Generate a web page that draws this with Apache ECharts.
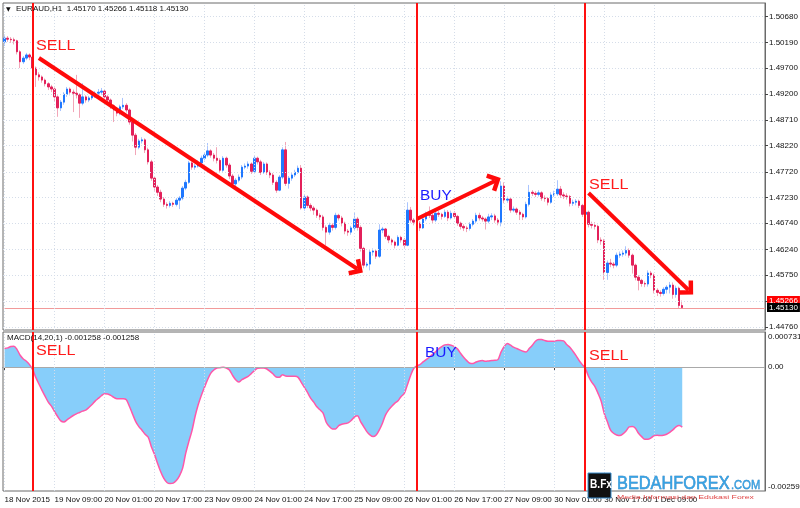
<!DOCTYPE html>
<html>
<head>
<meta charset="utf-8">
<script src="https://cdn.jsdelivr.net/npm/echarts@6/dist/echarts.min.js"></script>
<style>
html, body { margin: 0; padding: 0; background: #fff; }
#chart { width: 800px; height: 508px; }
</style>
</head>
<body>
<div id="chart"></div>
<script>
// EURAUD H1, 18 Nov 2015 17:00 onwards, one entry per hourly bar
const timeLabels = ["18 Nov 2015", "19 Nov 09:00", "20 Nov 01:00", "20 Nov 17:00", "23 Nov 09:00",
  "24 Nov 01:00", "24 Nov 17:00", "25 Nov 09:00", "26 Nov 01:00", "26 Nov 17:00",
  "27 Nov 09:00", "30 Nov 01:00", "30 Nov 17:00", "1 Dec 09:00"];
const barsPerLabel = 16;
const priceTicks = [1.5068, 1.5019, 1.4970, 1.4920, 1.4871, 1.4822, 1.4772, 1.4723,
  1.4674, 1.4624, 1.4575, 1.4526, 1.4476];
const priceRange = [1.44703, 1.50941];
const macdTicks = [0.000731, 0, -0.002593];

const firstOpen = 1.5020;
const closes = [
  1.5027, 1.5025, 1.5024, 1.5022, 1.5001, 1.4982, 1.4989, 1.4995, 1.4991, 1.4970,
  1.4957, 1.4953, 1.4947, 1.4940, 1.4934, 1.4930, 1.4915, 1.4894, 1.4905, 1.4920,
  1.4930, 1.4924, 1.4922, 1.4919, 1.4903, 1.4915, 1.4909, 1.4913, 1.4917, 1.4922,
  1.4924, 1.4926, 1.4915, 1.4909, 1.4898, 1.4890, 1.4884, 1.4896, 1.4899, 1.4890,
  1.4867, 1.4842, 1.4819, 1.4831, 1.4833, 1.4814, 1.4791, 1.4760, 1.4743, 1.4733,
  1.4720, 1.4710, 1.4708, 1.4712, 1.4710, 1.4718, 1.4722, 1.4741, 1.4752, 1.4789,
  1.4781, 1.4783, 1.4789, 1.4798, 1.4804, 1.4812, 1.4804, 1.4798, 1.4794, 1.4775,
  1.4798, 1.4785, 1.4764, 1.4749, 1.4756, 1.4762, 1.4781, 1.4783, 1.4787, 1.4773,
  1.4798, 1.4791, 1.4771, 1.4787, 1.4771, 1.4766, 1.4752, 1.4737, 1.4762, 1.4814,
  1.4750, 1.4760, 1.4766, 1.4771, 1.4779, 1.4703, 1.4724, 1.4708, 1.4703, 1.4699,
  1.4689, 1.4686, 1.4666, 1.4657, 1.4670, 1.4666, 1.4689, 1.4684, 1.4674, 1.4659,
  1.4657, 1.4665, 1.4682, 1.4666, 1.4626, 1.4594, 1.4596, 1.4619, 1.4621, 1.4611,
  1.4661, 1.4663, 1.4649, 1.4642, 1.4638, 1.4632, 1.4647, 1.4642, 1.4632, 1.4699,
  1.4680, 1.4676, 1.4674, 1.4665, 1.4682, 1.4691, 1.4689, 1.4680, 1.4693, 1.4691,
  1.4687, 1.4695, 1.4684, 1.4693, 1.4687, 1.4674, 1.4668, 1.4665, 1.4664, 1.4672,
  1.4678, 1.4689, 1.4684, 1.4682, 1.4678, 1.4686, 1.4688, 1.4680, 1.4676, 1.4745,
  1.4718, 1.4720, 1.4699, 1.4701, 1.4695, 1.4691, 1.4686, 1.4710, 1.4733, 1.4731,
  1.4729, 1.4732, 1.4722, 1.4721, 1.4714, 1.4728, 1.4730, 1.4739, 1.4728, 1.4726,
  1.4725, 1.4712, 1.4714, 1.4716, 1.4708, 1.4691, 1.4695, 1.4672, 1.4670, 1.4668,
  1.4642, 1.4640, 1.4580, 1.4598, 1.4596, 1.4594, 1.4613, 1.4615, 1.4617, 1.4622,
  1.4613, 1.4594, 1.4571, 1.4565, 1.4559, 1.4558, 1.4579, 1.4575, 1.4546, 1.4542,
  1.4540, 1.4548, 1.4552, 1.4556, 1.4538, 1.4550, 1.4517, 1.4513
];
const highs = [
  1.5034, 1.5031, 1.5029, 1.5028, 1.5024, 1.5004, 1.4993, 1.4999, 1.4998, 1.4994,
  1.4973, 1.4962, 1.4956, 1.4950, 1.4943, 1.4938, 1.4933, 1.4918, 1.4909, 1.4924,
  1.4934, 1.4933, 1.4929, 1.4957, 1.4922, 1.4941, 1.4918, 1.4917, 1.4921, 1.4926,
  1.4930, 1.4932, 1.4929, 1.4919, 1.4912, 1.4901, 1.4893, 1.4900, 1.4913, 1.4903,
  1.4893, 1.4870, 1.4846, 1.4835, 1.4838, 1.4836, 1.4818, 1.4795, 1.4764, 1.4747,
  1.4738, 1.4724, 1.4714, 1.4716, 1.4715, 1.4722, 1.4726, 1.4745, 1.4757, 1.4793,
  1.4792, 1.4787, 1.4794, 1.4803, 1.4809, 1.4827, 1.4815, 1.4808, 1.4819, 1.4798,
  1.4802, 1.4801, 1.4789, 1.4768, 1.4760, 1.4767, 1.4785, 1.4788, 1.4792, 1.4790,
  1.4802, 1.4801, 1.4795, 1.4791, 1.4790, 1.4775, 1.4770, 1.4756, 1.4766, 1.4819,
  1.4829, 1.4764, 1.4770, 1.4776, 1.4784, 1.4785, 1.4728, 1.4727, 1.4712, 1.4707,
  1.4702, 1.4693, 1.4690, 1.4670, 1.4675, 1.4674, 1.4694, 1.4692, 1.4688, 1.4677,
  1.4663, 1.4669, 1.4694, 1.4686, 1.4670, 1.4629, 1.4600, 1.4624, 1.4626, 1.4624,
  1.4672, 1.4667, 1.4665, 1.4652, 1.4645, 1.4641, 1.4651, 1.4650, 1.4646, 1.4714,
  1.4705, 1.4684, 1.4680, 1.4678, 1.4686, 1.4696, 1.4706, 1.4693, 1.4697, 1.4697,
  1.4694, 1.4700, 1.4699, 1.4698, 1.4697, 1.4690, 1.4677, 1.4672, 1.4669, 1.4676,
  1.4682, 1.4694, 1.4694, 1.4688, 1.4685, 1.4692, 1.4693, 1.4692, 1.4684, 1.4754,
  1.4752, 1.4725, 1.4724, 1.4706, 1.4704, 1.4699, 1.4694, 1.4715, 1.4747, 1.4737,
  1.4735, 1.4737, 1.4735, 1.4727, 1.4724, 1.4733, 1.4736, 1.4756, 1.4745, 1.4733,
  1.4731, 1.4728, 1.4719, 1.4720, 1.4719, 1.4711, 1.4700, 1.4698, 1.4677, 1.4676,
  1.4671, 1.4647, 1.4644, 1.4603, 1.4606, 1.4600, 1.4618, 1.4620, 1.4622, 1.4630,
  1.4626, 1.4616, 1.4597, 1.4575, 1.4568, 1.4563, 1.4584, 1.4583, 1.4578, 1.4550,
  1.4546, 1.4552, 1.4556, 1.4562, 1.4561, 1.4555, 1.4553, 1.45266
];
const lows = [
  1.5012, 1.5020, 1.5018, 1.5015, 1.4996, 1.4970, 1.4978, 1.4985, 1.4985, 1.4962,
  1.4934, 1.4946, 1.4942, 1.4935, 1.4928, 1.4924, 1.4906, 1.4877, 1.4888, 1.4900,
  1.4915, 1.4918, 1.4886, 1.4912, 1.4875, 1.4899, 1.4904, 1.4905, 1.4909, 1.4913,
  1.4917, 1.4919, 1.4910, 1.4903, 1.4892, 1.4867, 1.4878, 1.4880, 1.4892, 1.4885,
  1.4862, 1.4830, 1.4804, 1.4815, 1.4826, 1.4808, 1.4786, 1.4755, 1.4736, 1.4726,
  1.4714, 1.4705, 1.4702, 1.4704, 1.4705, 1.4706, 1.4701, 1.4718, 1.4737, 1.4749,
  1.4776, 1.4776, 1.4780, 1.4785, 1.4794, 1.4800, 1.4799, 1.4792, 1.4788, 1.4770,
  1.4772, 1.4780, 1.4758, 1.4744, 1.4745, 1.4752, 1.4758, 1.4777, 1.4778, 1.4768,
  1.4770, 1.4786, 1.4766, 1.4768, 1.4766, 1.4760, 1.4747, 1.4732, 1.4735, 1.4758,
  1.4745, 1.4740, 1.4755, 1.4762, 1.4768, 1.4700, 1.4698, 1.4703, 1.4697, 1.4690,
  1.4684, 1.4680, 1.4660, 1.4632, 1.4652, 1.4660, 1.4662, 1.4679, 1.4668, 1.4653,
  1.4650, 1.4652, 1.4660, 1.4660, 1.4620, 1.4588, 1.4590, 1.4584, 1.4612, 1.4606,
  1.4608, 1.4655, 1.4644, 1.4636, 1.4632, 1.4626, 1.4630, 1.4637, 1.4627, 1.4630,
  1.4675, 1.4670, 1.4667, 1.4659, 1.4663, 1.4678, 1.4684, 1.4674, 1.4676, 1.4686,
  1.4681, 1.4684, 1.4678, 1.4681, 1.4682, 1.4669, 1.4662, 1.4659, 1.4657, 1.4660,
  1.4668, 1.4674, 1.4679, 1.4677, 1.4662, 1.4674, 1.4680, 1.4675, 1.4670, 1.4668,
  1.4712, 1.4713, 1.4694, 1.4695, 1.4690, 1.4680, 1.4680, 1.4683, 1.4706, 1.4726,
  1.4724, 1.4725, 1.4717, 1.4715, 1.4708, 1.4711, 1.4724, 1.4726, 1.4722, 1.4720,
  1.4719, 1.4706, 1.4707, 1.4708, 1.4703, 1.4686, 1.4685, 1.4666, 1.4664, 1.4662,
  1.4636, 1.4633, 1.4566, 1.4566, 1.4590, 1.4588, 1.4590, 1.4608, 1.4610, 1.4612,
  1.4608, 1.4578, 1.4565, 1.4546, 1.4553, 1.4552, 1.4553, 1.4569, 1.4540, 1.4535,
  1.4534, 1.4536, 1.4540, 1.4540, 1.4530, 1.4532, 1.4512, 1.45118
];
// MACD(14,20,1) main line
const macd = [
  0.000385, 0.000399, 0.000427, 0.000434, 0.000364, 0.000245, 0.000168, 0.000119, 0.000049, -0.000056,
  -0.000217, -0.000357, -0.000490, -0.000616, -0.000735, -0.000819, -0.000931, -0.001036, -0.001127, -0.001148,
  -0.001106, -0.001057, -0.001015, -0.000980, -0.000952, -0.000924, -0.000903, -0.000847, -0.000784, -0.000714,
  -0.000658, -0.000602, -0.000560, -0.000567, -0.000595, -0.000637, -0.000665, -0.000665, -0.000665, -0.000686,
  -0.000826, -0.000987, -0.001141, -0.001246, -0.001323, -0.001407, -0.001470, -0.001666, -0.001827, -0.002016,
  -0.002191, -0.002331, -0.002415, -0.002436, -0.002429, -0.002373, -0.002275, -0.002121, -0.001806, -0.001561,
  -0.001337, -0.001036, -0.000791, -0.000595, -0.000427, -0.000266, -0.000133, -0.000063, -0.000021, -0.000014,
  -0.000007, -0.000021, -0.000063, -0.000175, -0.000266, -0.000315, -0.000266, -0.000231, -0.000196, -0.000140,
  -0.000077, -0.000028, -0.000021, -0.000021, -0.000042, -0.000091, -0.000147, -0.000210, -0.000217, -0.000161,
  -0.000189, -0.000196, -0.000196, -0.000196, -0.000217, -0.000322, -0.000427, -0.000532, -0.000651, -0.000735,
  -0.000833, -0.000896, -0.000966, -0.001155, -0.001246, -0.001295, -0.001295, -0.001225, -0.001197, -0.001183,
  -0.001169, -0.001120, -0.001050, -0.001022, -0.001141, -0.001246, -0.001351, -0.001421, -0.001456, -0.001421,
  -0.001316, -0.001176, -0.001001, -0.000896, -0.000819, -0.000756, -0.000707, -0.000616, -0.000553, -0.000371,
  -0.000182, -0.000035, 0.000021, 0.000049, 0.000105, 0.000154, 0.000203, 0.000259, 0.000315, 0.000378,
  0.000427, 0.000462, 0.000469, 0.000455, 0.000427, 0.000378, 0.000287, 0.000203, 0.000133, 0.000077,
  0.000070, 0.000105, 0.000126, 0.000133, 0.000119, 0.000126, 0.000133, 0.000140, 0.000154, 0.000315,
  0.000427, 0.000490, 0.000455, 0.000413, 0.000385, 0.000357, 0.000329, 0.000315, 0.000385, 0.000455,
  0.000539, 0.000574, 0.000574, 0.000553, 0.000539, 0.000539, 0.000539, 0.000553, 0.000553, 0.000546,
  0.000469, 0.000413, 0.000329, 0.000238, 0.000133, 0.000049, -0.000035, -0.000196, -0.000315, -0.000406,
  -0.000546, -0.000707, -0.000966, -0.001141, -0.001316, -0.001386, -0.001421, -0.001435, -0.001400, -0.001337,
  -0.001253, -0.001246, -0.001281, -0.001386, -0.001456, -0.001512, -0.001512, -0.001484, -0.001435, -0.001428,
  -0.001435, -0.001428, -0.001407, -0.001365, -0.001316, -0.001253, -0.001225, -0.001258
];
// hand drawn signals: bar index of each vertical line, arrows as [bar, price] pairs
const signalBars = [9, 132, 186];
const arrows = [
  [[11, 1.49892], [113, 1.45867]],
  [[132, 1.46821], [157, 1.47546]],
  [[187, 1.47317], [219, 1.45466]]
];
const totalSlots = 244;

const FONT = "Liberation Sans";
const cats = Array.from({ length: totalSlots }, (_, i) => String(i));
const ohlc = closes.map((c, i) => [i === 0 ? firstOpen : closes[i - 1], c, lows[i], highs[i]]);
const bodies = ohlc.map(d => [d[0], d[1], Math.min(d[0], d[1]), Math.max(d[0], d[1])]);
const last = ohlc[ohlc.length - 1];
const isLabelBar = i => i % barsPerLabel === 0 && i / barsPerLabel < timeLabels.length;

const chevron = "path://M5,0 L10,5 L8.4,6.6 L5,3.2 L1.6,6.6 L0,5 Z";
const dotted = { color: "#d5dde9", type: [1, 2], width: 1 };
const vSeg = (bar, range) => [{ coord: [String(bar), range[0]] }, { coord: [String(bar), range[1]] }];
const macdRange = [macdTicks[2], macdTicks[0]];
const labelBars = timeLabels.map((_, k) => k * barsPerLabel);

// full-height vertical line through a bar, drawn by a custom series
function vLineItem(color, width) {
  return (params, api) => {
    const x = Math.round(api.coord([api.value(0), api.value(1)])[0]);
    const cs = params.coordSys;
    return { type: "line", shape: { x1: x, y1: cs.y, x2: x, y2: cs.y + cs.height },
      style: { stroke: color, lineWidth: width } };
  };
}
// full-width horizontal line at a price
function hLineItem(color) {
  return (params, api) => {
    const y = Math.round(api.coord([api.value(0), api.value(1)])[1]) + 0.5;
    const cs = params.coordSys;
    return { type: "line", shape: { x1: cs.x, y1: y, x2: cs.x + cs.width, y2: y },
      style: { stroke: color, lineWidth: 1 } };
  };
}

// an overlay price axis that only shows one boxed label
function priceBox(value, bg) {
  return {
    gridIndex: 0, type: "value", position: "right", min: priceRange[0], max: priceRange[1], scale: true,
    axisLine: { show: false }, axisTick: { show: false }, splitLine: { show: false },
    axisLabel: { customValues: [value], formatter: v => v.toFixed(5), fontSize: 8, color: "#fff",
      backgroundColor: bg, padding: [1, 2, 0, 2], margin: 2, fontFamily: FONT }
  };
}

const chart = echarts.init(document.getElementById("chart"));

const option = {
  animation: false,
  backgroundColor: "#fff",
  textStyle: { fontFamily: FONT },
  grid: [
    { left: 3, right: 35, top: 3, height: 327, outerBoundsMode: "none", containLabel: false,
      show: true, borderColor: "#6a6a6a", borderWidth: 1, backgroundColor: "#fff" },
    { left: 3, right: 35, top: 332, height: 159, outerBoundsMode: "none", containLabel: false,
      show: true, borderColor: "#6a6a6a", borderWidth: 1, backgroundColor: "#fff" }
  ],
  xAxis: [
    { gridIndex: 0, type: "category", data: cats, axisLine: { show: false }, axisTick: { show: false },
      axisLabel: { show: false }, splitLine: { show: false } },
    { gridIndex: 1, type: "category", data: cats,
      axisLine: { show: true, lineStyle: { color: "#6a6a6a" } },
      axisTick: { show: true, alignWithLabel: true, interval: i => isLabelBar(i), length: 4, lineStyle: { color: "#444" } },
      axisLabel: { interval: i => isLabelBar(i), formatter: (v, i) => timeLabels[i / barsPerLabel] || "",
        align: "left", margin: 5, fontSize: 8, color: "#111", fontFamily: FONT, hideOverlap: false },
      splitLine: { show: false } }
  ],
  yAxis: [
    { gridIndex: 0, type: "value", position: "right", min: priceRange[0], max: priceRange[1], scale: true,
      axisLine: { show: true, lineStyle: { color: "#6a6a6a" } },
      axisTick: { show: true, customValues: priceTicks, length: 3, lineStyle: { color: "#444" } },
      axisLabel: { customValues: priceTicks, formatter: v => v.toFixed(5), fontSize: 8, color: "#111", margin: 4, fontFamily: FONT },
      splitLine: { show: false } },
    { gridIndex: 1, type: "value", position: "right", min: macdRange[0], max: macdRange[1],
      axisLine: { show: true, lineStyle: { color: "#6a6a6a" } },
      axisTick: { show: false },
      axisLabel: { customValues: macdTicks, fontSize: 8, color: "#111", margin: 3, fontFamily: FONT,
        formatter: v => v === 0 ? "{z|0.00}" : (v > 0 ? "{t|" + v.toFixed(6) + "}" : "{b|" + v.toFixed(6) + "}"),
        rich: { t: { padding: [9, 0, 0, 0], fontSize: 8 }, b: { padding: [0, 0, 9, 0], fontSize: 8 }, z: { fontSize: 8 } } },
      splitLine: { show: false } },
    priceBox(last[3], "#ff0000"),
    priceBox(last[1], "#000")
  ],
  series: [
    { // price panel grid
      type: "line", xAxisIndex: 0, yAxisIndex: 0, data: [], silent: true, z: 1,
      markLine: { silent: true, precision: 6, symbol: ["none", "none"], label: { show: false }, lineStyle: dotted,
        data: priceTicks.map(p => ({ yAxis: p })).concat(labelBars.map(b => vSeg(b, priceRange))) }
    },
    { // macd panel grid
      type: "line", xAxisIndex: 1, yAxisIndex: 1, data: [], silent: true, z: 1,
      markLine: { silent: true, precision: 6, symbol: ["none", "none"], label: { show: false }, lineStyle: dotted,
        data: labelBars.map(b => vSeg(b, macdRange)) }
    },
    { // bid line
      type: "custom", xAxisIndex: 0, yAxisIndex: 0, silent: true, z: 2,
      data: [[0, last[1]]], renderItem: hLineItem("#f29a9a")
    },
    { // wicks
      type: "candlestick", name: "wick", xAxisIndex: 0, yAxisIndex: 0, data: ohlc, barWidth: 1, silent: true, z: 2,
      itemStyle: { color: "#a9c4ff", color0: "#f2a6b8", borderColor: "#a9c4ff", borderColor0: "#f2a6b8", borderWidth: 1 }
    },
    { // bodies + hand drawn arrows
      type: "candlestick", name: "EURAUD,H1", xAxisIndex: 0, yAxisIndex: 0, data: bodies, barWidth: 2, z: 3,
      itemStyle: { color: "#1f78ff", color0: "#e3205a", borderColor: "#1f78ff", borderColor0: "#e3205a", borderWidth: 1 },
      markLine: {
        silent: true, precision: 6, symbol: ["none", "none"], label: { show: false },
        data: arrows.map(a => [
          { coord: [String(a[0][0]), a[0][1]], symbol: "none", lineStyle: { color: "#ff0a0a", width: 4, type: "solid" } },
          { coord: [String(a[1][0]), a[1][1]], symbol: chevron, symbolSize: [20, 13] }
        ])
      }
    },
    { // MACD
      type: "line", name: "MACD(14,20,1)", xAxisIndex: 1, yAxisIndex: 1, data: macd, smooth: 0.3,
      showSymbol: false, z: 3,
      lineStyle: { color: "#ff57a8", width: 1.5 },
      areaStyle: { color: "#87cefa", opacity: 1, origin: 0 }
    },
    { // zero line
      type: "custom", xAxisIndex: 1, yAxisIndex: 1, silent: true, z: 4,
      data: [[0, 0]], renderItem: hLineItem("#a9a9a9")
    },
    { // signal lines, price panel
      type: "custom", xAxisIndex: 0, yAxisIndex: 0, silent: true, z: 6,
      data: signalBars.map(b => [b, priceRange[0]]), renderItem: vLineItem("#ff1010", 2)
    },
    { // signal lines, macd panel
      type: "custom", xAxisIndex: 1, yAxisIndex: 1, silent: true, z: 6,
      data: signalBars.map(b => [b, 0]), renderItem: vLineItem("#ff1010", 2)
    }
  ],
  graphic: [
    { type: "text", x: 6, y: 6, z: 100, style: { text: "▼", fontSize: 6, fill: "#111", fontFamily: "DejaVu Sans" } },
    { type: "text", x: 16, y: 5, z: 100, style: { text: "EURAUD,H1  " + [last[0], last[3], last[2], last[1]].map(v => v.toFixed(5)).join(" "),
      fontSize: 8, fill: "#111", fontFamily: FONT } },
    { type: "text", x: 7, y: 334, z: 100, style: { text: "MACD(14,20,1) " + macd[macd.length - 1].toFixed(6) + " " + macd[macd.length - 1].toFixed(6),
      fontSize: 8, fill: "#111", fontFamily: FONT } },
    { type: "text", x: 36, y: 39, scaleX: 1.15, z: 100, style: { text: "SELL", fontSize: 14, fill: "#ff1a1a", fontFamily: FONT } },
    { type: "text", x: 589, y: 178, scaleX: 1.15, z: 100, style: { text: "SELL", fontSize: 14, fill: "#ff1a1a", fontFamily: FONT } },
    { type: "text", x: 420, y: 189, scaleX: 1.1, z: 100, style: { text: "BUY", fontSize: 14, fill: "#1a1aff", fontFamily: FONT } },
    { type: "text", x: 36, y: 344, scaleX: 1.15, z: 100, style: { text: "SELL", fontSize: 14, fill: "#ff1a1a", fontFamily: FONT } },
    { type: "text", x: 425, y: 346, scaleX: 1.1, z: 100, style: { text: "BUY", fontSize: 14, fill: "#1a1aff", fontFamily: FONT } },
    { type: "text", x: 589, y: 349, scaleX: 1.15, z: 100, style: { text: "SELL", fontSize: 14, fill: "#ff1a1a", fontFamily: FONT } },
    // watermark
    { type: "rect", z: 100, shape: { x: 588, y: 473, width: 23, height: 25 }, style: { fill: "#111", stroke: "#3a8fd0", lineWidth: 1 } },
    { type: "text", x: 590, y: 478, scaleX: 0.78, z: 101, style: { text: "B.Fx", fontSize: 13, fontWeight: "bold", fill: "#fff", fontFamily: FONT } },
    { type: "text", x: 617, y: 474, scaleX: 0.86, z: 100, style: { text: "BEDAHFOREX", fontSize: 19, fill: "#35a2e4", stroke: "#1b6cb0", lineWidth: 0.5, fontFamily: FONT } },
    { type: "text", x: 731, y: 479, scaleX: 0.86, z: 100, style: { text: ".COM", fontSize: 13, fill: "#35a2e4", stroke: "#1b6cb0", lineWidth: 0.4, fontFamily: FONT } },
    { type: "text", x: 617, y: 494, scaleX: 1.45, z: 100, style: { text: "Media Informasi dan Edukasi Forex", fontSize: 6, fill: "#e04545", fontFamily: FONT } }
  ]
};

chart.setOption(option);
</script>
</body>
</html>
